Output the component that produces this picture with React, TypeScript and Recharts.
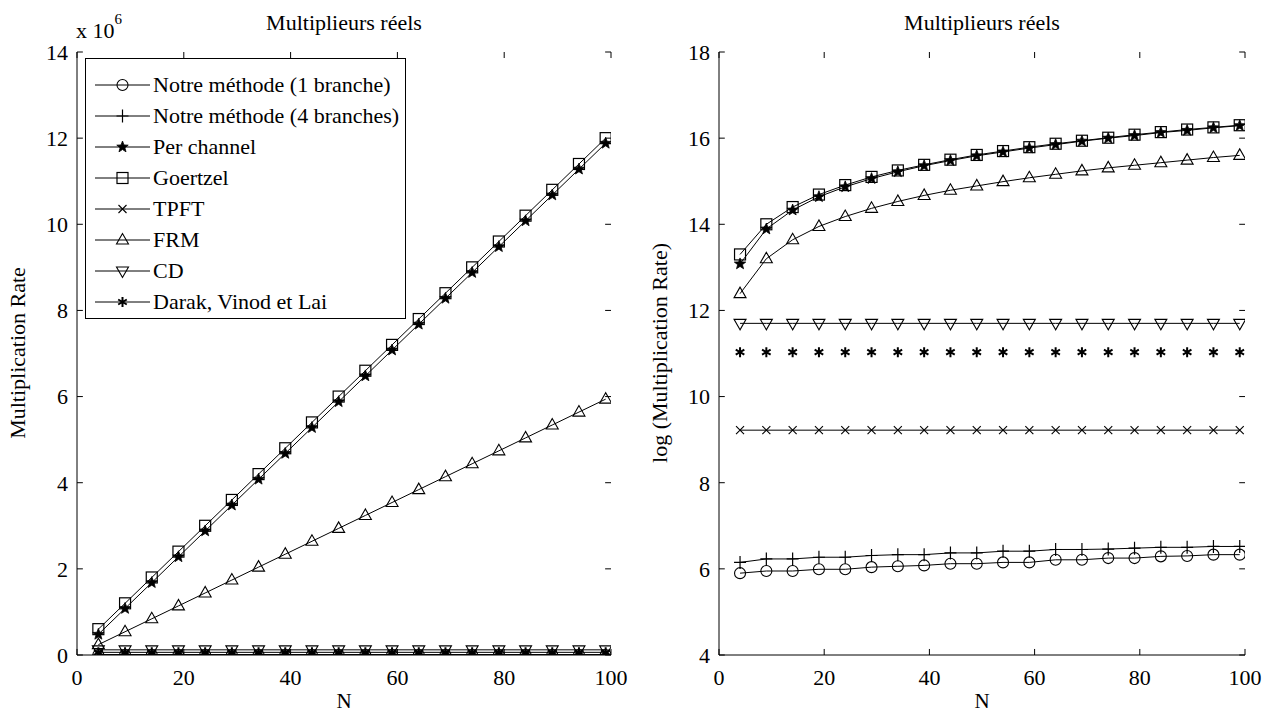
import React from 'react';
import { LineChart, Line, XAxis, YAxis, Legend, ReferenceLine } from 'recharts';

const FONT = '"Liberation Serif", "Times New Roman", serif';

// ---------- data ----------
const N = [4, 9, 14, 19, 24, 29, 34, 39, 44, 49, 54, 59, 64, 69, 74, 79, 84, 89, 94, 99];

const seriesNames = [
  'Notre méthode (1 branche)',
  'Notre méthode (4 branches)',
  'Per channel',
  'Goertzel',
  'TPFT',
  'FRM',
  'CD',
  'Darak, Vinod et Lai',
];
const seriesKeys = ['notre1', 'notre4', 'perChannel', 'goertzel', 'tpft', 'frm', 'cd', 'darak'];
const seriesShapes = ['circle', 'plus', 'pentagram', 'square', 'x', 'triUp', 'triDown', 'asterisk'];

// Left panel: Multiplication Rate (x 10^6)
const linNotre1 = [0.000365, 0.000384, 0.000384, 0.000399, 0.000399, 0.00042, 0.000428, 0.000437, 0.000455, 0.000455, 0.000469, 0.000469, 0.000498, 0.000498, 0.000518, 0.000518, 0.000539, 0.000545, 0.000561, 0.000561];
const linNotre4 = [0.000469, 0.000508, 0.000508, 0.000529, 0.000529, 0.00055, 0.000561, 0.000561, 0.000584, 0.000584, 0.000608, 0.000608, 0.000633, 0.000633, 0.000639, 0.000652, 0.000665, 0.000665, 0.000679, 0.000679];
const linPerChannel = [0.48, 1.08, 1.68, 2.28, 2.88, 3.48, 4.08, 4.68, 5.28, 5.88, 6.48, 7.08, 7.68, 8.28, 8.88, 9.48, 10.08, 10.68, 11.28, 11.88];
const linGoertzel = [0.6, 1.2, 1.8, 2.4, 3.0, 3.6, 4.2, 4.8, 5.4, 6.0, 6.6, 7.2, 7.8, 8.4, 9.0, 9.6, 10.2, 10.8, 11.4, 12.0];
const linTpft = [0.0101, 0.0101, 0.0101, 0.0101, 0.0101, 0.0101, 0.0101, 0.0101, 0.0101, 0.0101, 0.0101, 0.0101, 0.0101, 0.0101, 0.0101, 0.0101, 0.0101, 0.0101, 0.0101, 0.0101];
const linFrm = [0.24, 0.54, 0.84, 1.14, 1.44, 1.74, 2.04, 2.34, 2.64, 2.94, 3.24, 3.54, 3.84, 4.14, 4.44, 4.74, 5.04, 5.34, 5.64, 5.94];
const linCd = [0.12, 0.12, 0.12, 0.12, 0.12, 0.12, 0.12, 0.12, 0.12, 0.12, 0.12, 0.12, 0.12, 0.12, 0.12, 0.12, 0.12, 0.12, 0.12, 0.12];
const linDarak = [0.062, 0.062, 0.062, 0.062, 0.062, 0.062, 0.062, 0.062, 0.062, 0.062, 0.062, 0.062, 0.062, 0.062, 0.062, 0.062, 0.062, 0.062, 0.062, 0.062];

// Right panel: log (Multiplication Rate)
const logNotre1 = [5.9, 5.95, 5.95, 5.99, 5.99, 6.04, 6.06, 6.08, 6.12, 6.12, 6.15, 6.15, 6.21, 6.21, 6.25, 6.25, 6.29, 6.3, 6.33, 6.33];
const logNotre4 = [6.15, 6.23, 6.23, 6.27, 6.27, 6.31, 6.33, 6.33, 6.37, 6.37, 6.41, 6.41, 6.45, 6.45, 6.46, 6.48, 6.5, 6.5, 6.52, 6.52];
const logPerChannel = [13.08, 13.89, 14.33, 14.64, 14.87, 15.06, 15.22, 15.36, 15.48, 15.59, 15.68, 15.77, 15.85, 15.93, 16.0, 16.06, 16.13, 16.18, 16.24, 16.29];
const logGoertzel = [13.3, 14.0, 14.4, 14.69, 14.91, 15.1, 15.25, 15.38, 15.5, 15.61, 15.7, 15.79, 15.87, 15.94, 16.01, 16.08, 16.14, 16.2, 16.25, 16.3];
const logTpft = [9.22, 9.22, 9.22, 9.22, 9.22, 9.22, 9.22, 9.22, 9.22, 9.22, 9.22, 9.22, 9.22, 9.22, 9.22, 9.22, 9.22, 9.22, 9.22, 9.22];
const logFrm = [12.39, 13.2, 13.64, 13.95, 14.18, 14.37, 14.53, 14.67, 14.79, 14.89, 14.99, 15.08, 15.16, 15.24, 15.31, 15.37, 15.43, 15.49, 15.55, 15.6];
const logCd = [11.7, 11.7, 11.7, 11.7, 11.7, 11.7, 11.7, 11.7, 11.7, 11.7, 11.7, 11.7, 11.7, 11.7, 11.7, 11.7, 11.7, 11.7, 11.7, 11.7];
const logDarak = [11.03, 11.03, 11.03, 11.03, 11.03, 11.03, 11.03, 11.03, 11.03, 11.03, 11.03, 11.03, 11.03, 11.03, 11.03, 11.03, 11.03, 11.03, 11.03, 11.03];

const xTicks = [0, 20, 40, 60, 80, 100];
const linTicks = [0, 2, 4, 6, 8, 10, 12, 14];
const logTicks = [4, 6, 8, 10, 12, 14, 16, 18];

const titleText = 'Multiplieurs réels';
const xLabel = 'N';
const linYLabel = 'Multiplication Rate';
const logYLabel = 'log (Multiplication Rate)';

const leftData = N.map((n, i) => ({
  N: n,
  notre1: linNotre1[i],
  notre4: linNotre4[i],
  perChannel: linPerChannel[i],
  goertzel: linGoertzel[i],
  tpft: linTpft[i],
  frm: linFrm[i],
  cd: linCd[i],
  darak: linDarak[i],
}));

const rightData = N.map((n, i) => ({
  N: n,
  notre1: logNotre1[i],
  notre4: logNotre4[i],
  perChannel: logPerChannel[i],
  goertzel: logGoertzel[i],
  tpft: logTpft[i],
  frm: logFrm[i],
  cd: logCd[i],
  darak: logDarak[i],
}));

// ---------- markers ----------
function Marker({ cx, cy, shape }: { cx: number; cy: number; shape: string }) {
  const k = '#000';
  if (cx == null || cy == null || isNaN(cx) || isNaN(cy)) return null;
  switch (shape) {
    case 'circle':
      return <circle cx={cx} cy={cy} r={5.5} fill="none" stroke={k} strokeWidth={1.1} />;
    case 'plus':
      return <path d={`M${cx - 6},${cy}H${cx + 6}M${cx},${cy - 6.5}V${cy + 6.5}`} stroke={k} strokeWidth={1.2} fill="none" />;
    case 'pentagram': {
      const pts: string[] = [];
      for (let j = 0; j < 10; j++) {
        const r = j % 2 === 0 ? 6 : 2.5;
        const a = (-90 + j * 36) * (Math.PI / 180);
        pts.push(`${cx + r * Math.cos(a)},${cy + r * Math.sin(a)}`);
      }
      return <polygon points={pts.join(' ')} fill={k} stroke={k} strokeWidth={0.8} />;
    }
    case 'square':
      return <rect x={cx - 5.5} y={cy - 5.5} width={11} height={11} fill="none" stroke={k} strokeWidth={1.2} />;
    case 'x':
      return <path d={`M${cx - 4},${cy - 4}L${cx + 4},${cy + 4}M${cx - 4},${cy + 4}L${cx + 4},${cy - 4}`} stroke={k} strokeWidth={1.1} fill="none" />;
    case 'triUp':
      return <polygon points={`${cx},${cy - 6.5} ${cx - 6},${cy + 4} ${cx + 6},${cy + 4}`} fill="none" stroke={k} strokeWidth={1.1} />;
    case 'triDown':
      return <polygon points={`${cx},${cy + 6.5} ${cx - 6},${cy - 4} ${cx + 6},${cy - 4}`} fill="none" stroke={k} strokeWidth={1.1} />;
    case 'asterisk':
      return (
        <path
          d={`M${cx},${cy - 5}V${cy + 5}M${cx - 4.3},${cy - 2.5}L${cx + 4.3},${cy + 2.5}M${cx - 4.3},${cy + 2.5}L${cx + 4.3},${cy - 2.5}`}
          stroke={k}
          strokeWidth={2}
          fill="none"
        />
      );
    default:
      return null;
  }
}

function makeDot(shape: string, prefix: string) {
  return (p: any) => <Marker key={`${prefix}-${shape}-${p.index}`} cx={p.cx} cy={p.cy} shape={shape} />;
}

// ---------- legend ----------
function LegendBox() {
  const rowH = 31;
  return (
    <svg width={322} height={262} style={{ display: 'block' }}>
      <rect x={0.5} y={0.5} width={320} height={260} fill="#fff" stroke="#000" strokeWidth={1} />
      {seriesNames.map((name, i) => {
        const y = 27 + i * rowH;
        return (
          <g key={name}>
            <line x1={10} x2={65} y1={y} y2={y} stroke="#000" strokeWidth={1} />
            <Marker cx={37.5} cy={y} shape={seriesShapes[i]} />
            <text x={68} y={y + 7} fontFamily={FONT} fontSize={22} fill="#000">
              {name}
            </text>
          </g>
        );
      })}
    </svg>
  );
}

const tickStyle = { fill: '#000', fontSize: 22, fontFamily: FONT };

function Panel({ data, width, left, yWidth, marginRight, yDomain, yTicks, prefix, withLegend, darakLine, tickDx, tickDy }: any) {
  const [y0, y1] = yDomain;
  return (
    <LineChart
      width={width}
      height={716}
      data={data}
      margin={{ top: 52, right: marginRight, left: 0, bottom: 0 }}
      style={{ position: 'absolute', left, top: 0 }}
    >
      <XAxis
        xAxisId="b"
        dataKey="N"
        type="number"
        domain={[0, 100]}
        ticks={xTicks}
        interval={0}
        height={61}
        tickLine={false}
        tickSize={0}
        tickMargin={14}
        stroke="#000"
        tick={tickStyle}
        allowDataOverflow
      />
      <XAxis
        xAxisId="t"
        orientation="top"
        dataKey="N"
        type="number"
        domain={[0, 100]}
        ticks={xTicks}
        height={0}
        tickLine={false}
        tick={false}
        stroke="#000"
        allowDataOverflow
      />
      <YAxis
        yAxisId="l"
        type="number"
        domain={yDomain}
        ticks={yTicks}
        interval={0}
        width={yWidth}
        tickLine={false}
        tickSize={0}
        tickMargin={9}
        stroke="#000"
        tick={tickStyle}
        allowDataOverflow
      />
      <YAxis
        yAxisId="r"
        orientation="right"
        type="number"
        domain={yDomain}
        ticks={yTicks}
        width={0}
        tickLine={false}
        tick={false}
        stroke="#000"
        allowDataOverflow
      />
      {xTicks.map((t) => (
        <ReferenceLine
          key={`xb${t}`}
          xAxisId="b"
          yAxisId="l"
          segment={[{ x: t, y: y0 }, { x: t, y: y0 + tickDy }]}
          stroke="#000"
          strokeWidth={1}
          ifOverflow="visible"
        />
      ))}
      {xTicks.map((t) => (
        <ReferenceLine
          key={`xt${t}`}
          xAxisId="b"
          yAxisId="l"
          segment={[{ x: t, y: y1 }, { x: t, y: y1 - tickDy }]}
          stroke="#000"
          strokeWidth={1}
          ifOverflow="visible"
        />
      ))}
      {yTicks.map((t: number) => (
        <ReferenceLine
          key={`yl${t}`}
          xAxisId="b"
          yAxisId="l"
          segment={[{ x: 0, y: t }, { x: tickDx, y: t }]}
          stroke="#000"
          strokeWidth={1}
          ifOverflow="visible"
        />
      ))}
      {yTicks.map((t: number) => (
        <ReferenceLine
          key={`yr${t}`}
          xAxisId="b"
          yAxisId="l"
          segment={[{ x: 100, y: t }, { x: 100 - tickDx, y: t }]}
          stroke="#000"
          strokeWidth={1}
          ifOverflow="visible"
        />
      ))}
      {seriesKeys.map((key, i) => (
        <Line
          key={key}
          xAxisId="b"
          yAxisId="l"
          dataKey={key}
          name={seriesNames[i]}
          stroke={key === 'darak' && !darakLine ? 'none' : '#000'}
          strokeWidth={1}
          dot={makeDot(seriesShapes[i], prefix + key)}
          activeDot={false}
          isAnimationActive={false}
        />
      ))}
      {withLegend && (
        <Legend
          layout="horizontal"
          verticalAlign="middle"
          align="center"
          content={() => <LegendBox />}
          wrapperStyle={{ left: 85, top: 58, width: 322, height: 262 }}
        />
      )}
    </LineChart>
  );
}

export default function App() {
  return (
    <div style={{ position: 'absolute', left: 0, top: 0, width: 1273, height: 716, background: '#fff', overflow: 'hidden' }}>
      <Panel
        data={leftData}
        width={660}
        left={0}
        yWidth={77}
        marginRight={49}
        yDomain={[0, 14]}
        yTicks={linTicks}
        prefix="L"
        withLegend
        darakLine
        tickDx={1.1}
        tickDy={0.14}
      />
      <Panel
        data={rightData}
        width={633}
        left={640}
        yWidth={79}
        marginRight={28}
        yDomain={[4, 18]}
        yTicks={logTicks}
        prefix="R"
        withLegend={false}
        darakLine={false}
        tickDx={1.1}
        tickDy={0.14}
      />
      <svg width={1273} height={716} style={{ position: 'absolute', left: 0, top: 0, pointerEvents: 'none' }}>
        <g fontFamily={FONT} fill="#000">
          <text x={344} y={30} fontSize={22} textAnchor="middle">{titleText}</text>
          <text x={982} y={30} fontSize={22} textAnchor="middle">{titleText}</text>
          <text x={76} y={38} fontSize={22}>
            x 10<tspan fontSize={15} dy={-14}>6</tspan>
          </text>
          <text x={344} y={708} fontSize={21} textAnchor="middle">{xLabel}</text>
          <text x={982} y={708} fontSize={21} textAnchor="middle">{xLabel}</text>
          <text transform="translate(25,353) rotate(-90)" fontSize={22} textAnchor="middle">{linYLabel}</text>
          <text transform="translate(667,353) rotate(-90)" fontSize={22} textAnchor="middle">{logYLabel}</text>
        </g>
      </svg>
    </div>
  );
}
